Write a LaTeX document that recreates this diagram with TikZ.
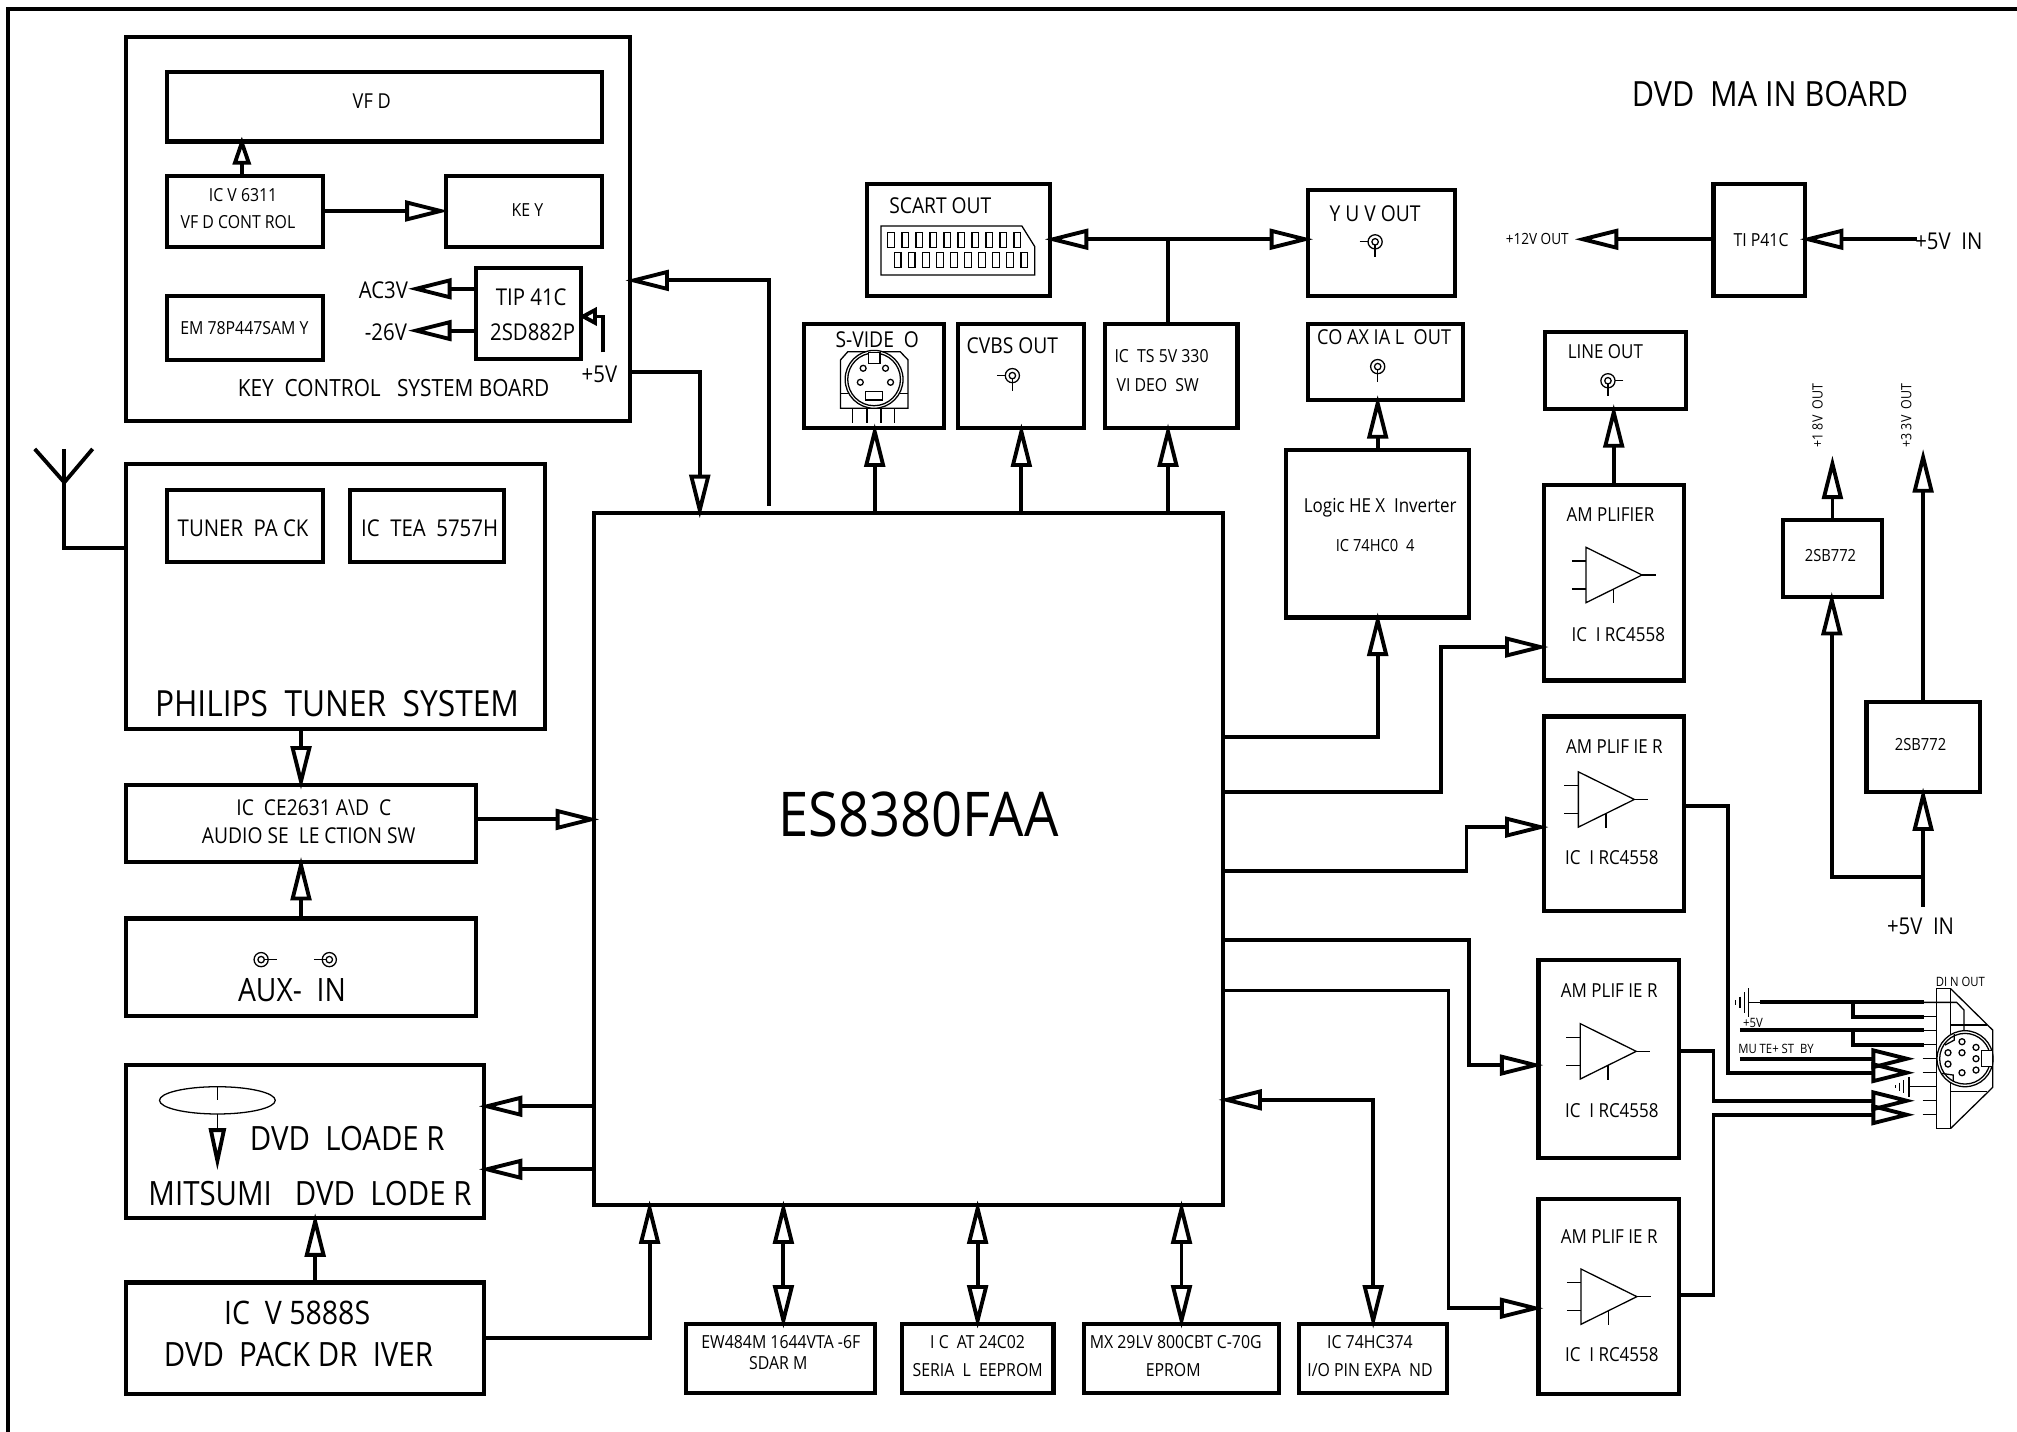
\documentclass[tikz,border=0pt]{standalone}
\usepackage{fontspec}
\setmainfont[FakeStretch=0.88]{Open Sans}
\usetikzlibrary{positioning, arrows.meta, fit}

\tikzset{
    blockbox/.style={draw=black, line width=1.6pt, inner sep=0pt, outer sep=0pt},
    txt/.style={inner sep=0pt, font=\fontsize{#1}{#1}\selectfont},
    wire/.style={line width=1.5pt},
    fine/.style={line width=.5pt},
    % RCA socket: lines to the left and downwards
    jack/.pic={
        \draw[fine] (0,0) circle (5.5);
        \draw[fine] (0,0) circle (2.5);
        \draw[fine] (-12,0) -- (-5.5,0);
        \draw[fine] (0,2.5) -- (0,12);
    },
    % socket with the down line only
    downjack/.pic={
        \draw[fine] (0,0) circle (5.5);
        \draw[fine] (0,0) circle (2.5);
        \draw[fine] (0,2.5) -- (0,12);
    },
    % side socket: one line only
    sidejack/.pic={
        \draw[fine] (0,0) circle (5.5);
        \draw[fine] (0,0) circle (2.5);
        \draw[fine] (-12,0) -- (-2.5,0);
    },
    % op amp symbol, origin on the middle of its base
    opamp/.pic={
        \draw[fine] (0,-21.5) -- (43.5,0) -- (0,21.5) -- cycle;
        \draw[fine] (-11,-10.8) -- (0,-10.8);
        \draw[fine] (-11,10.8) -- (0,10.8);
        \draw[fine] (43.5,0) -- (54.5,0);
        \draw[fine] (21.5,11) -- (21.5,22);
    }
}

\begin{document}
\begin{tikzpicture}[
        x=.5pt, y=-.5pt,
        >={Triangle[open,sep=-2pt,length=17pt,width=8pt,line width=1.5pt]}
    ]
    \useasboundingbox (0,0) rectangle (1568,1113);

    % --- frame: only top and left are on the sheet ---
    \coordinate (frameA) at (6,1113);
    \coordinate (frameB) at (6,7);
    \coordinate (frameC) at (1568,7);
    \draw[wire] (frameA) -- (frameB) -- (frameC);
    \node[txt=13.5] (title) at (1376,73) {DVD~~MA IN BOARD};

    % --- key control board ---
    \node[blockbox, fit={(98,29) (490,327)}] (keybrd) {};
    \node[blockbox, fit={(130,56) (468,110)}] (vfd) {};
    \node[blockbox, fit={(130,137) (251,192)}] (ctrl) {};
    \node[blockbox, fit={(347,137) (468,192)}] (key) {};
    \node[blockbox, fit={(130,230) (251,280)}] (mcu) {};
    \node[blockbox, fit={(370,208) (452,279)}] (tipA) {};
    \node[txt=8] (vfdT) at (289,79) {VF D};
    \node[txt=7] (ctrlT) at (189,152) {IC V 6311};
    \node[txt=7] (ctrlU) at (185,173) {VF D CONT ROL};
    \node[txt=7] (keyT) at (410,163) {KE Y};
    \node[txt=7] (mcuT) at (190,255) {EM 78P447SAM Y};
    \node[txt=9] (tipT) at (413,231) {TIP 41C};
    \node[txt=9] (tipU) at (414,258) {2SD882P};
    \node[txt=9] (acv) at (298,226) {AC3V};
    \node[txt=9] (negv) at (300,258) {-26V};
    \node[txt=9] (fivev) at (466,291) {+5V};
    \node[txt=9.2] (keybrdT) at (306,302) {KEY~~CONTROL~~~SYSTEM BOARD};

    % --- tuner ---
    \node[blockbox, fit={(98,361) (424,567)}] (tuner) {};
    \node[blockbox, fit={(130,381) (251,437)}] (pack) {};
    \node[blockbox, fit={(272,381) (392,437)}] (tea) {};
    \node[txt=9] (packT) at (189,411) {TUNER~~PA CK};
    \node[txt=9] (teaT) at (334,411) {IC~~TEA~~5757H};
    \node[txt=14] (tunerT) at (262,547) {PHILIPS~~TUNER~~SYSTEM};
    \coordinate (antTop) at (50,349);
    \coordinate (antFoot) at (50,426);
    \coordinate (antL) at (27,349);
    \coordinate (antR) at (72,349);
    \coordinate (antM) at (50,375);
    \draw[wire] (antL) -- (antM) -- (antR);
    \draw[wire] (antTop) -- (antFoot) -- (antFoot -| tuner.west);

    % --- left column ---
    \node[blockbox, fit={(98,610) (370,670)}] (sel) {};
    \node[blockbox, fit={(98,714) (370,790)}] (aux) {};
    \node[blockbox, fit={(98,828) (376,947)}] (loader) {};
    \node[blockbox, fit={(98,997) (376,1084)}] (drv) {};
    \node[txt=8.5] (selT) at (244,628) {IC~~CE2631 A\textbackslash D~~C};
    \node[txt=8.5] (selU) at (240,650) {AUDIO SE~~LE CTION SW};
    \node[txt=12.5] (auxT) at (227,770) {AUX-~~IN};
    \node[txt=13] (loaderT) at (270,885) {DVD~~LOADE R};
    \node[txt=13] (loaderU) at (241,928) {MITSUMI~~~DVD~~LODE R};
    \node[txt=12.6] (drvT) at (231,1021) {IC~~V 5888S};
    \node[txt=13] (drvU) at (232,1053) {DVD~~PACK DR~~IVER};
    \pic[xscale=-1] at (203,746) {sidejack};
    \pic at (256,746) {sidejack};
    \draw[fine] (169,855.4) ellipse (45 and 10.6);
    \draw[fine] (169,845) -- (169,855);
    \coordinate (discA) at (169,866);
    \coordinate (discB) at (169,910);
    \draw[fine] (discA) -- (169,877);
    \draw[wire, ->, >={Triangle[open,length=16.5pt,width=6.5pt,line width=1.5pt]}] (169,877) -- (discB);

    % --- main chip and bottom row ---
    \node[blockbox, fit={(462,399) (951,937)}] (chip) {};
    \node[txt=24] (chipT) at (714,633) {ES8380FAA};
    \node[blockbox, fit={(533,1029) (680,1083)}] (sdram) {};
    \node[blockbox, fit={(701,1029) (819,1083)}] (eeprom) {};
    \node[blockbox, fit={(843,1029) (994,1083)}] (flash) {};
    \node[blockbox, fit={(1010,1029) (1125,1083)}] (expand) {};
    \node[txt=7] (sdramT) at (607,1043) {EW484M 1644VTA -6F};
    \node[txt=7] (sdramU) at (605,1060) {SDAR M};
    \node[txt=7] (eepromT) at (760,1043) {I C~~AT 24C02};
    \node[txt=7] (eepromU) at (760,1065) {SERIA~~L~~EEPROM};
    \node[txt=7] (flashT) at (914,1043) {MX 29LV 800CBT C-70G};
    \node[txt=7] (flashU) at (912,1065) {EPROM};
    \node[txt=7] (expandT) at (1065,1043) {IC 74HC374};
    \node[txt=7] (expandU) at (1065,1065) {I/O PIN EXPA~~ND};

    % --- video outputs ---
    \node[blockbox, fit={(674,143) (816,230)}] (scart) {};
    \node[blockbox, fit={(1017,148) (1131,230)}] (yuv) {};
    \node[blockbox, fit={(625,252) (734,333)}] (svideo) {};
    \node[blockbox, fit={(745,252) (843,333)}] (cvbs) {};
    \node[blockbox, fit={(859,252) (962,333)}] (vsw) {};
    \node[blockbox, fit={(1017,252) (1137,311)}] (coax) {};
    \node[blockbox, fit={(1000,350) (1142,480)}] (logic) {};
    \node[blockbox, fit={(1201,258) (1311,318)}] (lineout) {};
    \node[txt=8.5] (scartT) at (731,160) {SCART OUT};
    \node[txt=8.5] (yuvT) at (1069,166) {Y U V OUT};
    \node[txt=8.5] (svideoT) at (682,264) {S-VIDE~~O};
    \node[txt=8.5] (cvbsT) at (787,269) {CVBS OUT};
    \node[txt=7] (vswT) at (903,277) {IC~~TS 5V 330};
    \node[txt=7] (vswU) at (900,299) {VI DEO~~SW};
    \node[txt=8] (coaxT) at (1076,262) {CO AX IA L~~OUT};
    \node[txt=7.5] (logicT) at (1073,395) {Logic HE X~~Inverter};
    \node[txt=6.5] (logicU) at (1069,424) {IC 74HC0~~4};
    \node[txt=7.5] (lineoutT) at (1248,273) {LINE OUT};
    \pic at (1069,188) {jack};
    \pic at (787,292) {jack};
    \pic at (1071,285) {downjack};
    \pic[xscale=-1] at (1250,296) {jack};

    % SCART socket
    \draw[fine] (684.8,175.7) -- (794.4,175.7) -- (804.4,191.7) -- (804.4,213.8) -- (684.8,213.8) -- cycle;
    \foreach \i in {0,...,9} {
        \draw[fine] (690.2+10.9*\i,180.6) rectangle ++(5,11.7);
        \draw[fine] (695.5+10.9*\i,196.2) rectangle ++(5,11.7);
    }
    % S-video socket
    \draw[fine] (659.1,273.4) -- (699.8,273.4) -- (705.9,279.8) -- (705.9,317.4) -- (653.4,317.4) -- (653.4,279.8) -- cycle;
    \draw[fine] (653.4,305.7) -- (705.9,305.7);
    \draw[fine, fill=white] (679.5,294.9) circle (22.5);
    \draw[fine] (679.5,294.9) circle (20.5);
    \draw[fine, fill=white] (675,274) rectangle (684,282.4);
    \draw[fine, fill=white] (673,304.5) rectangle (686,311);
    \foreach \px/\py in {671/286.3, 688.4/286.3, 668.8/297.2, 692.3/297.2}
        \draw[fine] (\px,\py) circle (2.3);
    \foreach \px in {662.7, 674, 684.8, 695.6}
        \draw[fine] (\px,317.4) -- (\px,328.5);

    % --- amplifiers ---
    \node[blockbox, fit={(1200,377) (1309,529)}] (ampA) {};
    \node[blockbox, fit={(1200,557) (1309,708)}] (ampB) {};
    \node[blockbox, fit={(1196,746) (1305,900)}] (ampC) {};
    \node[blockbox, fit={(1196,932) (1305,1084)}] (ampD) {};
    \node[txt=7.5] (ampAT) at (1252,400) {AM PLIFIER};
    \node[txt=7.5] (ampAU) at (1258,493) {IC~~I RC4558};
    \node[txt=7.5] (ampBT) at (1255,580) {AM PLIF IE R};
    \node[txt=7.5] (ampBU) at (1253,667) {IC~~I RC4558};
    \node[txt=7.5] (ampCT) at (1251,770) {AM PLIF IE R};
    \node[txt=7.5] (ampCU) at (1253,863) {IC~~I RC4558};
    \node[txt=7.5] (ampDT) at (1251,961) {AM PLIF IE R};
    \node[txt=7.5] (ampDU) at (1253,1053) {IC~~I RC4558};
    \pic at (1233,447) {opamp};
    \pic at (1227,621.5) {opamp};
    \pic at (1228.5,817.3) {opamp};
    \pic at (1229,1008) {opamp};

    % --- power ---
    \node[blockbox, fit={(1332,143) (1403,230)}] (tipB) {};
    \node[blockbox, fit={(1386,404) (1463,464)}] (sbA) {};
    \node[blockbox, fit={(1451,546) (1539,616)}] (sbB) {};
    \node[txt=7] (tipBT) at (1369,187) {TI P41C};
    \node[txt=6.5] (sbAT) at (1423,432) {2SB772};
    \node[txt=6.5] (sbBT) at (1493,579) {2SB772};
    \node[txt=6] (outA) at (1195,186) {+12V OUT};
    \node[txt=9] (inA) at (1515,188) {+5V~~IN};
    \node[txt=9] (inB) at (1493,720) {+5V~~IN};
    \node[txt=5.5, rotate=90] (outB) at (1413,323) {+1 8V~~OUT};
    \node[txt=5.5, rotate=90] (outC) at (1482,323) {+3 3V~~OUT};

    % --- DIN socket (own grid) ---
    \begin{scope}[shift={(1166,528.6)}, x=.1296pt, y=-.1296pt]
        \node[txt=5] (dinT) at (1381,905) {DI N OUT};
        \node[txt=5] (plusT) at (759,1028) {+5V};
        \node[txt=5] (muteT) at (828,1107) {MU TE+ ST~~BY};
        \coordinate (dinA) at (1230,1136);
        \coordinate (dinB) at (1230,1178);
        \coordinate (dinC) at (1230,1262);
        \coordinate (dinD) at (1230,1304);
        \coordinate (dinE) at (1272,967);
        \coordinate (dinF) at (1272,1010);
        \coordinate (dinG) at (1272,1051);
        \coordinate (dinH) at (1272,1094);
        \coordinate (gndIn) at (780,967);
        \coordinate (plusIn) at (720,1051);
        \coordinate (muteIn) at (720,1136);
        \coordinate (gndBranch) at (1058,967);
        \coordinate (plusBranch) at (1058,1051);
        % wires at the plate
        \draw[fine] (745,967) -- (gndIn);
        \draw[fine] (dinE) -- (1370,967) -- (1392,990) -- (1392,1050);
        \foreach \w in {1010,1051,1094}
            \draw[fine] (1272,\w) -- (1310,\w);
        \foreach \w in {1136,1178,1262,1304}
            \draw[fine] (1268,\w) -- (1310,\w);
        \draw[fine] (1227,1220) -- (1310,1220);
        % ground symbols
        \draw[fine] (745,925) -- (745,1010) (733,937) -- (733,1000) (720,950) -- (720,985) (706,960) -- (706,975);
        \draw[fine] (1227,1190) -- (1227,1250) (1210,1200) -- (1210,1240) (1198,1208) -- (1198,1232) (1187,1216) -- (1187,1224);
        % body
        \draw[fine] (1310,926) rectangle (1352,1345);
        \draw[fine] (1352,926) -- (1478,1050) -- (1478,1222) -- (1352,1345);
        \draw[fine] (1352,1035) -- (1460,1035) (1352,1235) -- (1460,1235);
        \draw[fine, fill=white] (1395,1136) circle (84);
        \draw[fine] (1395,1136) circle (76);
        \draw[fine, fill=white] (1445,1112) rectangle (1478,1160);
        \draw[fine] (1363,1062) -- (1363,1080) -- (1335,1095);
        \draw[fine] (1325,1180) -- (1360,1185) -- (1360,1205);
        \foreach \px/\py in {1386/1085, 1344/1118, 1386/1118, 1428/1102, 1428/1136, 1344/1152, 1428/1170, 1386/1178}
            \draw[fine] (\px,\py) circle (9);
    \end{scope}

    % --- connectors ---
    \begin{scope}[wire]
    % key board
    \draw[->, >={Triangle[open,sep=-2pt,length=11pt,width=7pt,line width=1.5pt]}] (ctrl.north -| 188,0) -- (vfd.south -| 188,0);
    \draw[->] (ctrl.east |- 0,164) -- (345,164);
    \coordinate (acTip) at (321,224.5);
    \coordinate (negTip) at (321,257);
    \draw[->] (tipA.west |- acTip) -- (acTip);
    \draw[->] (tipA.west |- negTip) -- (negTip);
    \coordinate (fiveFoot) at (468.6,274);
    \draw[->, >={Triangle[open,sep=-1pt,length=7pt,width=7pt,line width=1.5pt]}] (fiveFoot) |- (tipA.east |- 0,246);
    \draw[->] (598,393) |- (keybrd.east |- 0,218);
    \draw[->] (keybrd.east |- 0,289) -| (chip.north -| 544,0);
    % left side
    \draw[->] (tuner.south -| 234,0) -- (sel.north -| 234,0);
    \draw[->] (aux.north -| 234,0) -- (sel.south -| 234,0);
    \draw[->] (sel.east |- 0,637) -- (chip.west |- 0,637);
    \draw[->] (chip.west |- 0,860) -- (loader.east |- 0,860);
    \draw[->] (chip.west |- 0,909) -- (loader.east |- 0,909);
    \draw[->] (drv.north -| 245,0) -- (loader.south -| 245,0);
    \draw[->] (drv.east |- 0,1040) -| (chip.south -| 505,0);
    % bottom row
    \draw[<->] (chip.south -| 609,0) -- (sdram.north -| 609,0);
    \draw[<->] (chip.south -| eeprom.north) -- (eeprom.north);
    \draw[<->] (chip.south -| flash.north) -- (flash.north);
    \draw[<->] (chip.east |- 0,855) -| (expand.north);
    % top row
    \draw[->] (chip.north -| 680,0) -- (svideo.south -| 680,0);
    \draw[->] (chip.north -| cvbs.south) -- (cvbs.south);
    \draw[->] (chip.north -| 908,0) -- (vsw.south -| 908,0);
    \coordinate (videoBus) at (908,186);
    \draw (vsw.north -| videoBus) -- (videoBus);
    \draw[->] (videoBus) -- (scart.east |- videoBus);
    \draw[->] (videoBus) -- (yuv.west |- videoBus);
    \draw[->] (logic.north) -- (coax.south -| logic.north);
    \draw[->] (chip.east |- 0,573) -| (logic.south);
    % amplifiers
    \draw[->] (chip.east |- 0,616) -- (1120,616) |- (ampA.west |- 0,503);
    \draw[->] (chip.east |- 0,677) -- (1140,677) |- (ampB.west |- 0,643);
    \draw[->] (chip.east |- 0,731) -- (1142,731) |- (ampC.west |- 0,828);
    \draw[->] (chip.east |- 0,770) -- (1126,770) |- (ampD.west |- 0,1017);
    \draw[->] (ampA.north) -- (lineout.south -| ampA.north);
    % power
    \draw[->] (tipB.west |- 0,186) -- (1228,186);
    \draw[->] (1490,186) -- (tipB.east |- 0,186);
    \coordinate (arrowA) at (sbA.north |- 0,358);
    \coordinate (arrowB) at (1495,353);
    \coordinate (inFoot) at (1495,705);
    \draw[->] (sbA.north) -- (arrowA);
    \draw[->] (sbB.north -| arrowB) -- (arrowB);
    \draw[->] (inFoot) -- (sbB.south -| inFoot);
    \draw[->] (1495,682) -| (sbA.south -| 1424,0);
    % DIN wires
    \draw (gndIn) -- (dinE);
    \draw (gndBranch) |- (dinF);
    \draw (plusIn) -- (dinG);
    \draw (plusBranch) |- (dinH);
    \draw[->] (muteIn) -- (dinA);
    \draw[->] (ampB.east |- 0,626.5) -- (1343,626.5) |- (dinB);
    \draw[->] (ampC.east |- 0,816.7) -- (1332,816.7) |- (dinC);
    \draw[->] (ampD.east |- 0,1007) -- (1332,1007) |- (dinD);
    \end{scope}
\end{tikzpicture}
\end{document}
